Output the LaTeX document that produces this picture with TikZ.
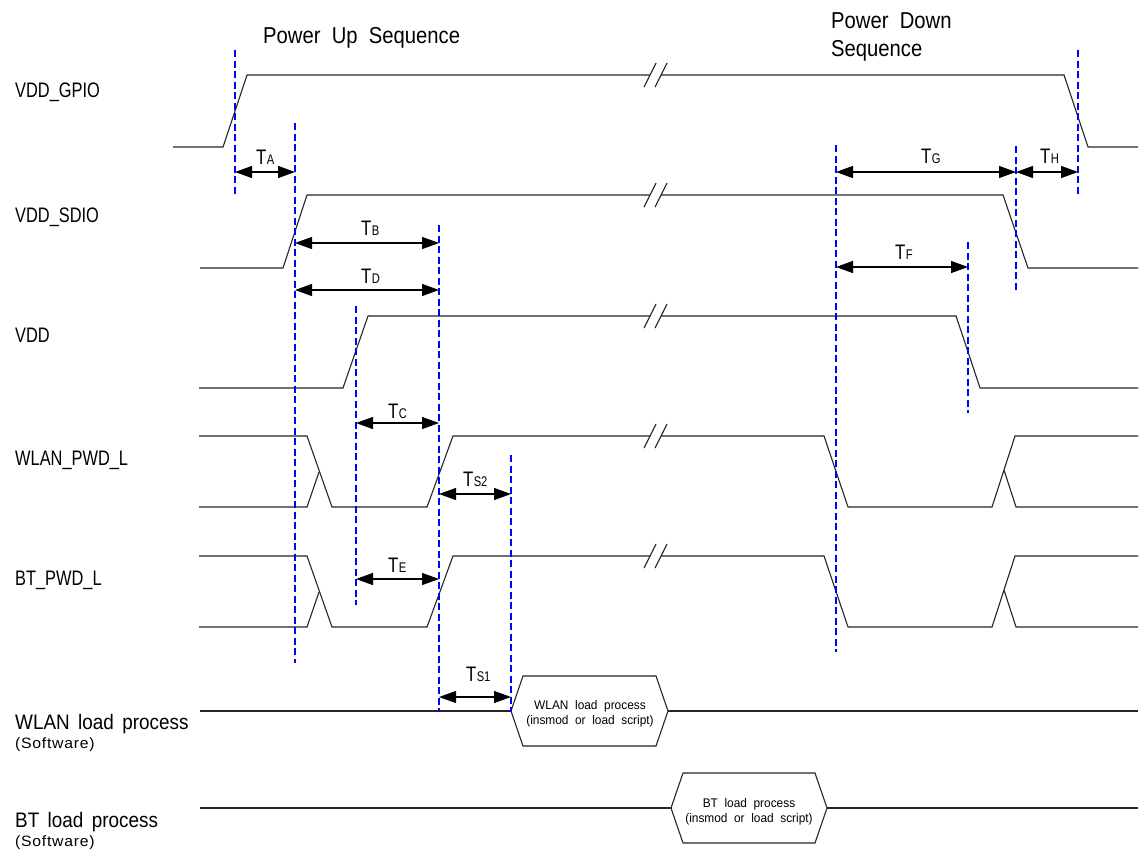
\documentclass[tikz,border=0pt]{standalone}
\usepackage{fontspec}
\setmainfont{Liberation Sans}[FakeStretch=0.8]
\newfontfamily\titlefont{Liberation Sans}[FakeStretch=0.88]
\newfontfamily\lblfont{Liberation Sans}[FakeStretch=0.78,WordSpace=1.8]
\newfontfamily\swfont{Liberation Sans}[FakeStretch=0.9,WordSpace=1.6]
\newfontfamily\subfont{Liberation Sans}[FakeStretch=1.05,LetterSpace=5]
\newfontfamily\hexfont{Liberation Sans}[FakeStretch=0.95]
\usetikzlibrary{arrows.meta}
\newcommand\Tsub[1]{T\kern0.3pt{\fontsize{14}{15}\selectfont #1}}
\newcommand\brkmark[1]{\begin{scope}[shift={(0,#1)}]\draw[sig] (644,12)--(656,-12) (655,12)--(667,-12);\end{scope}}
\begin{document}
\begin{tikzpicture}[x=1pt,y=-1pt,
  sig/.style={line width=1.1pt, black!85},
  guide/.style={blue, line width=1.7pt, dash pattern=on 7pt off 3.5pt},
  dim/.style={line width=1.2pt, {Triangle[length=17pt,width=12pt]}-{Triangle[length=17pt,width=12pt]}},
  tlab/.style={anchor=base west, inner sep=0, font=\fontsize{21}{23}\selectfont},
  lbl/.style={anchor=base west, inner sep=0, font=\lblfont\fontsize{21}{23}\selectfont},
  swlbl/.style={anchor=base west, inner sep=0, font=\swfont\fontsize{21}{23}\selectfont},
  sublbl/.style={anchor=base west, inner sep=0, font=\subfont\fontsize{15}{17}\selectfont},
  title/.style={anchor=base west, inner sep=0, font=\titlefont\fontsize{23}{25}\selectfont},
  hextxt/.style={anchor=base, inner sep=0, font=\hexfont\fontsize{12.5}{13}\selectfont}]
\useasboundingbox (0,0) rectangle (1140,852);
\fill[white] (0,0) rectangle (1140,852);

% titles
\node[title] (tup) at (263,43) {Power\ \ Up\ \ Sequence};
\node[title] (tdn1) at (831,28) {Power\ \ Down};
\node[title] (tdn2) at (831,56) {Sequence};

% signal labels
\node[lbl] (lgpio) at (15,97) {VDD\_GPIO};
\node[lbl] (lsdio) at (15,222) {VDD\_SDIO};
\node[lbl] (lvdd) at (15,342) {VDD};
\node[lbl] (lwlan) at (15,465) {WLAN\_PWD\_L};
\node[lbl] (lbt) at (15,585) {BT\_PWD\_L};
\node[swlbl] (lwl) at (15,729) {WLAN load process};
\node[sublbl] (lwls) at (15,748) {(Software)};
\node[swlbl] (lbl2) at (15,827) {BT load process};
\node[sublbl] (lbls) at (15,846) {(Software)};

% VDD_GPIO
\draw[sig] (173,147)--(223,147)--(247,75)--(650,75);
\draw[sig] (661,75)--(1064,75)--(1088,147)--(1138,147);
\brkmark{75}
% VDD_SDIO
\draw[sig] (200,268)--(283,268)--(307,195)--(650,195);
\draw[sig] (661,195)--(1003,195)--(1028,268)--(1138,268);
\brkmark{195}
% VDD
\draw[sig] (199,388)--(343,388)--(368,316)--(650,316);
\draw[sig] (661,316)--(956,316)--(980,388)--(1138,388);
\brkmark{316}
% WLAN_PWD_L and BT_PWD_L
\foreach \dy in {0,120}{
\begin{scope}[shift={(0,\dy)}]
\draw[sig] (199,436)--(307,436)--(332,507)--(427,507)--(453,436)--(650,436);
\draw[sig] (661,436)--(824,436)--(848,507)--(992,507)--(1015,436)--(1138,436);
\draw[sig] (199,507)--(307,507)--(319,472);
\draw[sig] (1004,470)--(1016,507)--(1138,507);
\end{scope}
\brkmark{436+\dy}
}

% software load processes
\draw[sig] (200,711)--(511,711) (668,711)--(1138,711);
\draw[sig] (511,711)--(523,676)--(656,676)--(668,711)--(656,746)--(523,746)--cycle;
\node[hextxt] (wlt1) at (590,709) {WLAN\ \ load\ \ process};
\node[hextxt] (wlt2) at (590,724) {(insmod\ \ or\ \ load\ \ script)};
\draw[sig] (200,808)--(671,808) (827,808)--(1138,808);
\draw[sig] (671,808)--(683,773)--(815,773)--(827,808)--(815,843)--(683,843)--cycle;
\node[hextxt] (btt1) at (749,807) {BT\ \ load\ \ process};
\node[hextxt] (btt2) at (749,822) {(insmod\ \ or\ \ load\ \ script)};

% guides
\draw[guide] (235,50)--(235,195);
\draw[guide] (295,123)--(295,663);
\draw[guide] (356,306)--(356,605);
\draw[guide] (439,225)--(439,712);
\draw[guide] (511,455)--(511,712);
\draw[guide] (836,145)--(836,652);
\draw[guide] (968,242)--(968,413);
\draw[guide] (1016,146)--(1016,292);
\draw[guide] (1078,50)--(1078,197);

% dimension arrows
\draw[dim] (235,172)--(295,172);
\draw[dim] (295,243)--(439,243);
\draw[dim] (295,290)--(439,290);
\draw[dim] (356,423)--(439,423);
\draw[dim] (356,579)--(439,579);
\draw[dim] (439,494)--(511,494);
\draw[dim] (439,697)--(511,697);
\draw[dim] (836,172)--(1016,172);
\draw[dim] (1016,172)--(1078,172);
\draw[dim] (836,267)--(968,267);

% timing labels
\node[tlab] (ta) at (256,164) {\Tsub{A}};
\node[tlab] (tb) at (361,235) {\Tsub{B}};
\node[tlab] (td) at (361,283) {\Tsub{D}};
\node[tlab] (tc) at (388,418) {\Tsub{C}};
\node[tlab] (te) at (388,572) {\Tsub{E}};
\node[tlab] (ts2) at (463,486) {\Tsub{S2}};
\node[tlab] (ts1) at (466,681) {\Tsub{S1}};
\node[tlab] (tg) at (921,163) {\Tsub{G}};
\node[tlab] (th) at (1040,163) {\Tsub{H}};
\node[tlab] (tf) at (895,259) {\Tsub{F}};
\end{tikzpicture}
\end{document}
